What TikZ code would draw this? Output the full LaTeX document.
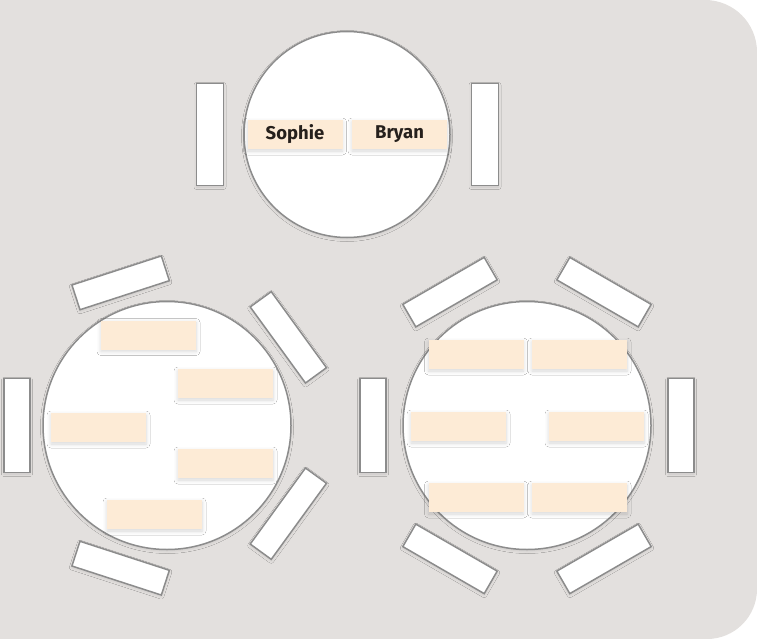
\documentclass[tikz,border=0pt]{standalone}
\usepackage{fontspec}
\setmainfont{Fira Sans}
\usetikzlibrary{shadows.blur}
\definecolor{bgc}{RGB}{227,224,222}
\definecolor{edgec}{RGB}{140,140,140}
\definecolor{cardc}{RGB}{253,235,214}
\definecolor{txtc}{RGB}{38,32,28}
\tikzset{
  x=1pt,y=1pt,
  lightshadow/.style={blur shadow={shadow blur steps=4, shadow xshift=0pt, shadow yshift=-1.5pt, shadow blur radius=2.5pt, shadow opacity=10}},
  cardshadow/.style={blur shadow={shadow blur steps=6, shadow xshift=0pt, shadow yshift=-2pt, shadow blur radius=4pt, shadow opacity=16}},
  tablec/.style={circle, draw=edgec, line width=1.5pt, fill=white, inner sep=0pt, lightshadow},
  chair/.style={rectangle, draw=edgec, line width=1.5pt, fill=white, inner sep=0pt, minimum width=26pt, minimum height=94pt, lightshadow},
  bigchair/.style={chair, minimum width=27pt, minimum height=102pt},
  card/.style={rectangle, fill=cardc, inner sep=0pt, minimum width=95pt, minimum height=29pt, text=txtc, font=\bfseries\fontsize{18.5}{20}\selectfont, cardshadow},
}
\begin{document}
\begin{tikzpicture}
\useasboundingbox (0,0) rectangle (757,-639);
\fill[bgc] (0,0) -- (705,0) arc[start angle=90,end angle=0,radius=52] -- (757,-589) arc[start angle=0,end angle=-90,radius=50] -- (0,-639) -- cycle;

% top table
\node[tablec, minimum size=206pt] (t1) at (347,-134.5) {};
\node[bigchair] (t1c1) at (210,-134.5) {};
\node[bigchair] (t1c2) at (485,-134.5) {};
\node[card] (s) at (295,-134.5) {Sophie};
\node[card] (b) at (399.5,-134.5) {Bryan};

% left table
\node[tablec, minimum size=248pt] (t2) at (167,-425.5) {};
\foreach \a [count=\i] in {180,108,36,-36,-108}{
  \node[chair, rotate=\a] (t2c\i) at ([shift={(\a:150)}]t2.center) {};
}
\node[card] (t2n1) at (148.5,-335) {};
\node[card] (t2n2) at (225.5,-383.5) {};
\node[card] (t2n3) at (98.5,-427.5) {};
\node[card] (t2n4) at (225.5,-463.5) {};
\node[card] (t2n5) at (154.5,-514.5) {};

% right table
\node[tablec, minimum size=248pt] (t3) at (527,-425.5) {};
\foreach \a [count=\i] in {0,60,120,180,240,300}{
  \node[chair, rotate=\a] (t3c\i) at ([shift={(\a:154)}]t3.center) {};
}
\node[card] (t3n1) at (476,-354.5) {};
\node[card] (t3n2) at (579.5,-354.5) {};
\node[card] (t3n3) at (458.5,-426.5) {};
\node[card] (t3n4) at (596.5,-426.5) {};
\node[card] (t3n5) at (476,-497.5) {};
\node[card] (t3n6) at (579.5,-497.5) {};
\end{tikzpicture}
\end{document}
